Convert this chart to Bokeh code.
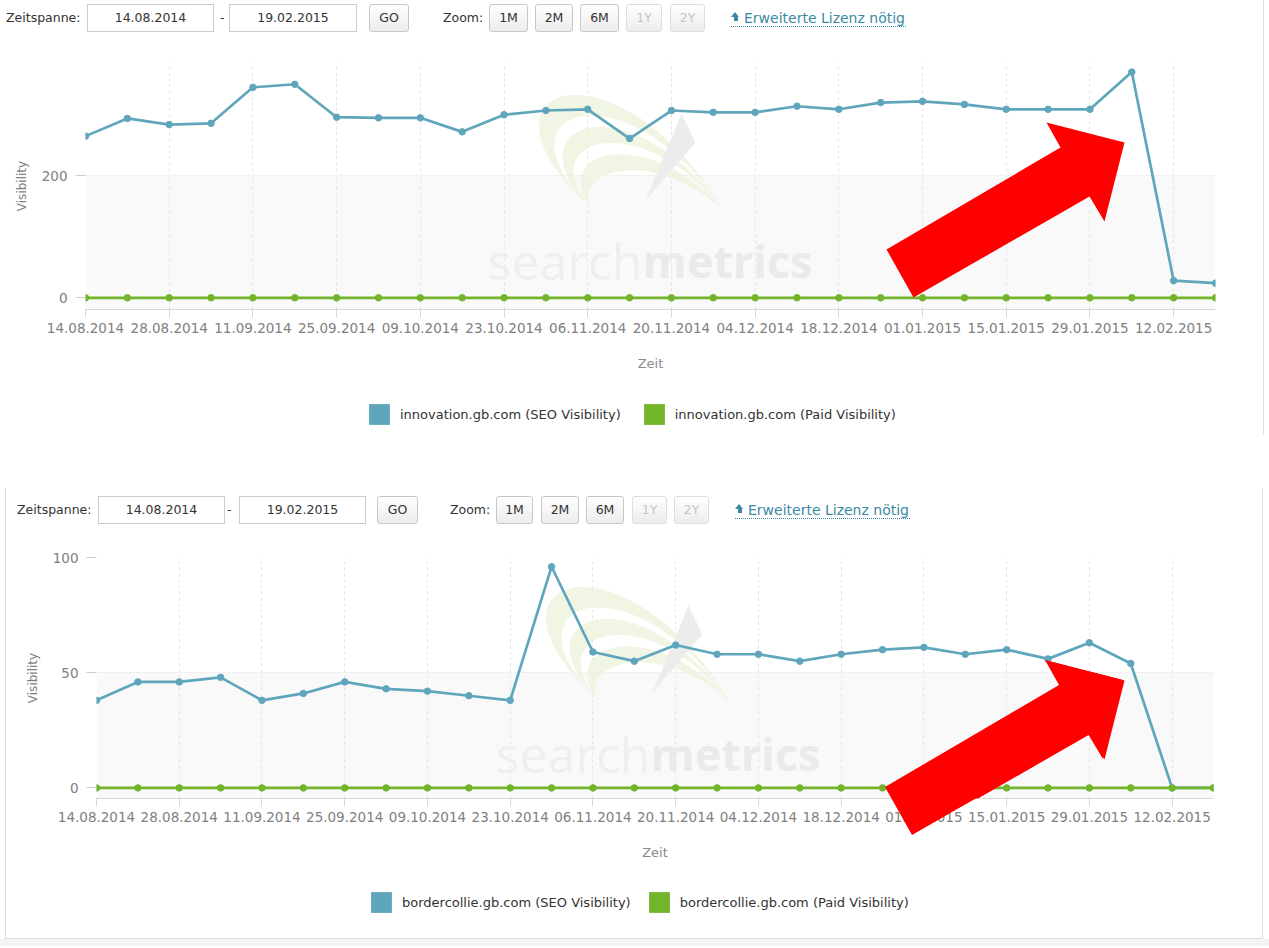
import numpy as np
import pandas as pd
from bokeh.plotting import figure
from bokeh.models import (ColumnDataSource, FixedTicker, DatetimeTickFormatter, BoxAnnotation,
                          PolyAnnotation, Label, Legend, LegendItem, Div, Range1d)
from bokeh.layouts import column, row
from bokeh.embed import file_html
from bokeh.resources import INLINE

# ---------------- data ----------------
dates = ["2014-08-14", "2014-08-21", "2014-08-28", "2014-09-04", "2014-09-11", "2014-09-18",
         "2014-09-25", "2014-10-02", "2014-10-09", "2014-10-16", "2014-10-23", "2014-10-30",
         "2014-11-06", "2014-11-13", "2014-11-20", "2014-11-27", "2014-12-04", "2014-12-11",
         "2014-12-18", "2014-12-25", "2015-01-01", "2015-01-08", "2015-01-15", "2015-01-22",
         "2015-01-29", "2015-02-05", "2015-02-12", "2015-02-19"]

tick_dates = ["2014-08-14", "2014-08-28", "2014-09-11", "2014-09-25", "2014-10-09", "2014-10-23",
              "2014-11-06", "2014-11-20", "2014-12-04", "2014-12-18", "2015-01-01", "2015-01-15",
              "2015-01-29", "2015-02-12"]

innovation_seo = [265, 294, 284, 286, 345, 350, 296, 295, 295, 272, 300, 307, 309, 261,
                  307, 304, 304, 314, 309, 320, 322, 317, 309, 309, 309, 370, 28, 24]
innovation_paid = [0, 0, 0, 0, 0, 0, 0, 0, 0, 0, 0, 0, 0, 0,
                   0, 0, 0, 0, 0, 0, 0, 0, 0, 0, 0, 0, 0, 0]

bordercollie_seo = [38, 46, 46, 48, 38, 41, 46, 43, 42, 40, 38, 96, 59, 55,
                    62, 58, 58, 55, 58, 60, 61, 58, 60, 56, 63, 54, 0, 0]
bordercollie_paid = [0, 0, 0, 0, 0, 0, 0, 0, 0, 0, 0, 0, 0, 0,
                     0, 0, 0, 0, 0, 0, 0, 0, 0, 0, 0, 0, 0, 0]

top_yticks = [0, 200]
bottom_yticks = [0, 50, 100]

SEO_C = "#5fa6bd"
PAID_C = "#72b52b"
FONT = "DejaVu Sans"
LINK_C = "#3b8aa3"

# decoration outlines (pixel positions in the reference, top chart)
ARROW = [(1124, 142), (1046, 122), (1060, 147), (886, 249), (913, 297), (1089, 196), (1104, 221)]
LOGO_DART = [(645, 200), (681, 113), (695, 142)]
LOGO_HORN_L = (590, 207)
LOGO_HORN_R = (723, 210)
LOGO_CTRL = [(455, 85), (615, 30)]
LOGO_BANDS = [(1.0, 0.82), (0.72, 0.58), (0.48, 0.34)]


def ms(d):
    return pd.Timestamp(d).value / 1e6


def bezier(s, n=40):
    L = np.array(LOGO_HORN_L, float)
    R = np.array(LOGO_HORN_R, float)
    m1 = L + (R - L) / 3
    m2 = L + 2 * (R - L) / 3
    p1 = m1 + s * (np.array(LOGO_CTRL[0]) - m1)
    p2 = m2 + s * (np.array(LOGO_CTRL[1]) - m2)
    t = np.linspace(0, 1, n)[:, None]
    return ((1 - t) ** 3) * L + 3 * ((1 - t) ** 2) * t * p1 + 3 * (1 - t) * t ** 2 * p2 + t ** 3 * R


def make_chart(w, h, ml, mr, mt, mb, yr, yticks, band_top, seo, paid,
               frame, wm, arrow_dy, logo_dx, logo_dy):
    x0, x1 = ms(dates[0]), ms(dates[-1])
    p = figure(width=w, height=h, x_axis_type="datetime",
               x_range=Range1d(x0, x1), y_range=Range1d(*yr),
               output_backend="svg", toolbar_location=None,
               min_border_left=ml, min_border_right=mr,
               min_border_top=mt, min_border_bottom=mb)
    p.outline_line_color = None
    p.background_fill_color = "white"
    p.border_fill_color = "white"

    fl, ft, fw, fh = frame

    def conv(px, py):
        return (x0 + (px - fl) / fw * (x1 - x0),
                yr[1] - (py - ft) / fh * (yr[1] - yr[0]))

    # alternating band
    p.add_layout(BoxAnnotation(top=band_top, fill_color="#f9f9f9", fill_alpha=1.0,
                               line_color=None, level="image"))

    # faint logo watermark
    for so, si in LOGO_BANDS:
        outer = bezier(so)
        inner = bezier(si)[::-1]
        pts = np.vstack([outer, inner])
        cx = [conv(a + logo_dx, b + logo_dy)[0] for a, b in pts]
        cy = [conv(a + logo_dx, b + logo_dy)[1] for a, b in pts]
        p.add_layout(PolyAnnotation(xs=cx, ys=cy, fill_color="#eef3dc", fill_alpha=0.8,
                                    line_color=None, level="underlay"))
    dart = [conv(a + logo_dx, b + logo_dy) for a, b in LOGO_DART]
    p.add_layout(PolyAnnotation(xs=[a for a, b in dart], ys=[b for a, b in dart],
                                fill_color="#ececec", fill_alpha=1.0, line_color=None,
                                level="underlay"))

    # text watermark
    wx, wy = conv(*wm)
    p.add_layout(Label(x=wx, y=wy, text="search", text_font="Open Sans", text_font_size="50px",
                       text_color="#efefef", text_align="right", text_baseline="alphabetic",
                       level="underlay"))
    p.add_layout(Label(x=wx, y=wy, text="metrics", text_font="Open Sans", text_font_size="45px",
                       text_font_style="bold", text_color="#eaeaea", text_align="left",
                       text_baseline="alphabetic", level="underlay"))

    src = ColumnDataSource(dict(x=pd.to_datetime(dates), seo=seo, paid=paid))
    p.line("x", "seo", source=src, line_color=SEO_C, line_width=2.7)
    p.scatter("x", "seo", source=src, size=6.5, fill_color=SEO_C, line_color=SEO_C)
    p.line("x", "paid", source=src, line_color=PAID_C, line_width=2.7)
    p.scatter("x", "paid", source=src, size=6.5, fill_color=PAID_C, line_color=PAID_C)

    # axes
    fmt = "%d.%m.%Y"
    p.xaxis.ticker = FixedTicker(ticks=[ms(d) for d in tick_dates])
    p.xaxis.formatter = DatetimeTickFormatter(days=fmt, months=fmt, years=fmt, hours=fmt,
                                              hourmin=fmt, minutes=fmt, minsec=fmt, seconds=fmt,
                                              milliseconds=fmt, microseconds=fmt)
    p.xaxis.axis_line_color = "#d8d8d8"
    p.xaxis.major_tick_line_color = "#d8d8d8"
    p.xaxis.major_tick_out = 8
    p.xaxis.major_tick_in = 0
    p.xaxis.minor_tick_line_color = None
    p.xaxis.major_label_standoff = 5
    p.xaxis.major_label_text_font = FONT
    p.xaxis.major_label_text_font_size = "13.5px"
    p.xaxis.major_label_text_color = "#808080"
    p.xaxis.axis_label = "Zeit"
    p.xaxis.axis_label_text_font = FONT
    p.xaxis.axis_label_text_font_size = "13px"
    p.xaxis.axis_label_text_font_style = "normal"
    p.xaxis.axis_label_text_color = "#8a8a8a"
    p.xaxis.axis_label_standoff = 20

    p.yaxis.ticker = FixedTicker(ticks=yticks)
    p.yaxis.axis_line_color = None
    p.yaxis.major_tick_line_color = "#cccccc"
    p.yaxis.major_tick_out = 10
    p.yaxis.major_tick_in = 0
    p.yaxis.minor_tick_line_color = None
    p.yaxis.major_label_standoff = 8
    p.yaxis.major_label_text_font = FONT
    p.yaxis.major_label_text_font_size = "13.5px"
    p.yaxis.major_label_text_color = "#808080"
    p.yaxis.axis_label = "Visibility"
    p.yaxis.axis_label_text_font = FONT
    p.yaxis.axis_label_text_font_size = "12px"
    p.yaxis.axis_label_text_font_style = "normal"
    p.yaxis.axis_label_text_color = "#808080"
    p.yaxis.axis_label_standoff = 10

    p.xgrid.grid_line_color = "#e4e4e4"
    p.xgrid.grid_line_dash = "3 3"
    p.ygrid.grid_line_color = "#f0f0f0"

    # red arrow (part inside the plot area)
    pts = [conv(px, py + arrow_dy) for px, py in ARROW]
    p.add_layout(PolyAnnotation(xs=[a for a, b in pts], ys=[b for a, b in pts],
                                fill_color="#ff0000", fill_alpha=1.0, line_color=None,
                                level="overlay"))
    return p


def make_legend(w, h, names, loc, spacing):
    p = figure(width=w, height=h, x_range=Range1d(0, 1), y_range=Range1d(0, 1),
               output_backend="svg", toolbar_location=None,
               x_axis_location=None, y_axis_location=None,
               min_border_left=0, min_border_right=0, min_border_top=0, min_border_bottom=0)
    p.outline_line_color = None
    p.grid.visible = False
    nan = [float("nan")]
    r1 = p.quad(left=nan, right=nan, top=nan, bottom=nan, fill_color=SEO_C, line_color=None)
    r2 = p.quad(left=nan, right=nan, top=nan, bottom=nan, fill_color=PAID_C, line_color=None)
    leg = Legend(items=[LegendItem(label=names[0], renderers=[r1]),
                        LegendItem(label=names[1], renderers=[r2])],
                 location=loc, orientation="horizontal", margin=0, padding=0,
                 spacing=spacing, glyph_width=26, glyph_height=26, label_standoff=8,
                 label_text_font=FONT, label_text_font_size="13px",
                 label_text_color="#333333", border_line_color=None,
                 background_fill_alpha=0)
    p.add_layout(leg)
    return p


# ---------------- header html ----------------
def txt(l, t, s, extra=""):
    return (f'<div style="position:absolute;left:{l}px;top:{t}px;height:28px;line-height:28px;'
            f'white-space:nowrap;{extra}">{s}</div>')


def inp(l, t, w, s):
    return (f'<div style="position:absolute;left:{l}px;top:{t}px;width:{w}px;height:28px;'
            f'box-sizing:border-box;border:1px solid #cccccc;background:#ffffff;'
            f'text-align:center;line-height:26px;">{s}</div>')


def btn(l, t, w, s, disabled=False):
    col = "#c4c4c4" if disabled else "#333333"
    bd = "#dddddd" if disabled else "#c8c8c8"
    return (f'<div style="position:absolute;left:{l}px;top:{t}px;width:{w}px;height:28px;'
            f'box-sizing:border-box;border:1px solid {bd};border-radius:3px;'
            f'background:linear-gradient(#ffffff,#ececec);color:{col};'
            f'text-align:center;line-height:26px;">{s}</div>')


def icon(l, t):
    return (f'<div style="position:absolute;left:{l}px;top:{t}px;width:0;height:0;'
            f'border-left:4.5px solid transparent;border-right:4.5px solid transparent;'
            f'border-bottom:5px solid {LINK_C};"></div>'
            f'<div style="position:absolute;left:{l + 2.5}px;top:{t + 5}px;width:4px;height:4px;'
            f'background:{LINK_C};"></div>')


def dotted(l, t, w):
    return (f'<div style="position:absolute;left:{l}px;top:{t}px;width:{w}px;height:0;'
            f'border-top:1px dotted {LINK_C};"></div>')


def header(w, h, t, xs):
    (lz, b1, dash, b2, go, zoom, m1, m2, m6, y1, y2, ic, lk) = xs
    items = [
        txt(lz, t, "Zeitspanne:"),
        inp(b1[0], t, b1[1], "14.08.2014"),
        txt(dash, t, "-"),
        inp(b2[0], t, b2[1], "19.02.2015"),
        btn(go[0], t, go[1], "GO"),
        txt(zoom, t, "Zoom:"),
        btn(m1[0], t, m1[1], "1M"),
        btn(m2[0], t, m2[1], "2M"),
        btn(m6[0], t, m6[1], "6M"),
        btn(y1[0], t, y1[1], "1Y", True),
        btn(y2[0], t, y2[1], "2Y", True),
        icon(ic, t + 8),
        txt(lk, t, "Erweiterte Lizenz nötig", f"font-size:14px;color:{LINK_C};"),
        dotted(ic, t + 22, lk + 162 - ic),
    ]
    html = (f'<div style="position:relative;width:{w}px;height:{h}px;font-family:\'DejaVu Sans\',sans-serif;'
            f'font-size:12.5px;color:#333333;overflow:hidden;">' + "".join(items) + '</div>')
    return Div(text=html, width=w, height=h, margin=0)


def block(w, h, bg=None):
    st = {"background-color": bg} if bg else {}
    return Div(text="", width=w, height=h, margin=0, styles=st)


# ---------------- top panel ----------------
h1 = header(1263, 40, 4, (6, (87, 127), 220, (229, 128), (369, 40), 443,
                          (489, 39), (535, 38), (580, 39), (626, 36), (670, 35), 731, 744))

fig1 = make_chart(1263, 349, 85, 48, 22, 80, (-19.2, 385.7), top_yticks, 200,
                  innovation_seo, innovation_paid,
                  frame=(85, 62, 1130, 247), wm=(642, 260), arrow_dy=0, logo_dx=0, logo_dy=0)
leg1 = make_legend(1263, 51, ["innovation.gb.com (SEO Visibility)",
                              "innovation.gb.com (Paid Visibility)"], (281, 13), 20)

top = row(column(h1, fig1, leg1), block(1, 435, "#dddddd"), block(5, 440))
gap = block(1269, 48)

# ---------------- bottom panel ----------------
h2 = header(1256, 44, 8, (11, (92, 127), 221, (233, 127), (371, 41), 444,
                          (490, 37), (535, 38), (580, 38), (626, 35), (668, 35), 729, 742))

fig2 = make_chart(1256, 346, 90, 49, 25, 80, (-4.6, 100), bottom_yticks, 50,
                  bordercollie_seo, bordercollie_paid,
                  frame=(96, 557, 1117, 241), wm=(650, 753), arrow_dy=538, logo_dx=7, logo_dy=492)
leg2 = make_legend(1256, 60, ["bordercollie.gb.com (SEO Visibility)",
                              "bordercollie.gb.com (Paid Visibility)"], (272, 23), 15)

bottom = row(block(5, 450), block(1, 450, "#dddddd"), column(h2, fig2, leg2),
             block(1, 450, "#dddddd"), block(6, 450))

# full red arrow of the lower chart as an overlay (it runs over the axis labels)
ox, oy = 6, 938
poly = " ".join(f"{px - ox},{py + 538 - oy}" for px, py in ARROW)
overlay_html = (f'<svg width="1258" height="1" style="position:absolute;left:0;top:0;'
                f'overflow:visible;z-index:10;"><polygon points="{poly}" fill="#ff0000"/></svg>')
hmid = Div(text=overlay_html, width=1258, height=1, margin=0,
           styles={"background-color": "#dddddd", "overflow": "visible",
                   "position": "relative", "z-index": "10"})
hline = row(block(5, 1), hmid, block(6, 1))
foot = block(1269, 7, "#f4f4f4")

root = column(top, gap, bottom, hline, foot)

open("out.html", "w").write(file_html(root, INLINE))
